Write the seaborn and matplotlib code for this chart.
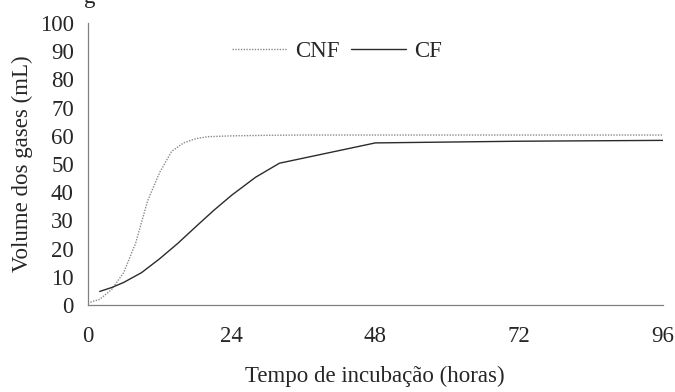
# gas production curves (CNF vs CF)
import numpy as np
import pandas as pd
import matplotlib
matplotlib.use('Agg')
import matplotlib.pyplot as plt
import seaborn as sns

# data
cnf_horas = [0, 2, 4, 6, 8, 10, 12, 14, 16, 18, 20, 24, 30, 36, 48, 72, 96]
cnf_volume = [0.7, 2.0, 5.5, 11.5, 22.0, 37.0, 47.0, 54.5, 57.5, 59.0, 59.7, 60.0, 60.2, 60.3, 60.3, 60.3, 60.3]
cf_horas = [2, 4, 6, 9, 12, 15, 18, 21, 24, 28, 32, 48, 72, 96]
cf_volume = [4.8, 6.2, 8.0, 11.5, 16.4, 21.8, 27.7, 33.5, 38.9, 45.3, 50.3, 57.5, 58.1, 58.4]
x_ticks = [0, 24, 48, 72, 96]
y_ticks = list(range(0, 101, 10))

df = pd.concat([
    pd.DataFrame({'horas': cnf_horas, 'volume': cnf_volume, 'trat': 'CNF'}),
    pd.DataFrame({'horas': cf_horas, 'volume': cf_volume, 'trat': 'CF'}),
])

sns.set_style('white')
plt.rcParams['font.family'] = ['Liberation Serif', 'DejaVu Serif']
fs = 16.5

fig = plt.figure(figsize=(6.75, 3.92), dpi=100)
ax = fig.add_axes([0.130, 0.222, 0.852, 0.719])

sns.lineplot(data=df, x='horas', y='volume', hue='trat', style='trat',
             palette={'CNF': '#8a8a8a', 'CF': '#2b2b2b'},
             dashes={'CNF': (1, 1), 'CF': ''}, linewidth=1.0,
             sort=False, estimator=None, ax=ax)

ax.set_xlim(0, 96)
ax.set_ylim(0, 100)
ax.set_xticks(x_ticks)
ax.set_yticks(y_ticks)
ax.tick_params(axis='both', labelsize=fs, direction='out', length=5,
               width=0.8, color='#808080', pad=5)
ax.tick_params(axis='x', pad=10)
for s in ['top', 'right']:
    ax.spines[s].set_visible(False)
for s in ['left', 'bottom']:
    ax.spines[s].set_color('#808080')
    ax.spines[s].set_linewidth(0.9)

ax.set_xlabel('Tempo de incubação (horas)', fontsize=fs, labelpad=14)
ax.set_ylabel('Volume dos gases (mL)', fontsize=fs, labelpad=5)

leg = ax.legend(loc='upper left', bbox_to_anchor=(0.215, 1.01), ncol=2,
                frameon=False, fontsize=fs, handlelength=2.4,
                handletextpad=0.35, columnspacing=0.5)

# clipped letter from the caption above
fig.text(0.124, 0.992, 'g', fontsize=fs, va='baseline')

fig.savefig('out.png', dpi=100)
